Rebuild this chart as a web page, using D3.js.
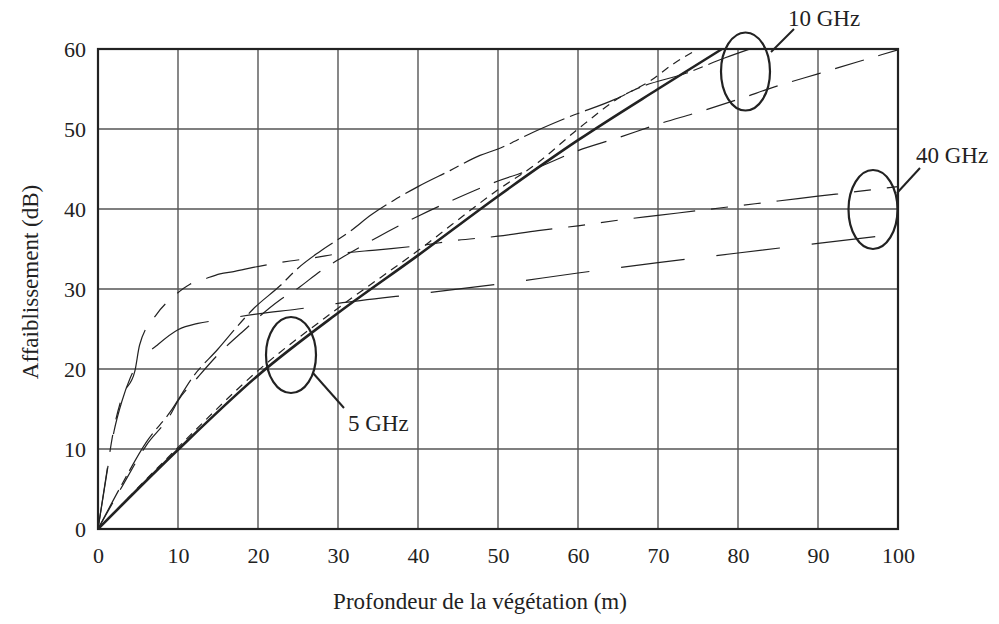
<!DOCTYPE html>
<html>
<head>
<meta charset="utf-8">
<script src="https://cdn.jsdelivr.net/npm/d3@7"></script>
<style>
  html, body { margin: 0; padding: 0; background: #fff; }
  svg { display: block; }
  text { font-family: "Liberation Serif", "DejaVu Serif", serif; fill: #222; }
</style>
</head>
<body>
<svg id="chart" width="999" height="624"></svg>
<script>
// ---- tick labels / domain ----
const xTicks = [0, 10, 20, 30, 40, 50, 60, 70, 80, 90, 100];
const yTicks = [0, 10, 20, 30, 40, 50, 60];
const xTitle = "Profondeur de la végétation (m)";
const yTitle = "Affaiblissement (dB)";

// ---- 5 GHz ----
const d5solid = [0, 10, 20, 30, 40, 50, 60, 70, 78];
const a5solid = [0, 9.9, 19.2, 27, 34.2, 41.6, 48.6, 55, 60];
const d5dash = [0, 10, 20, 30, 40, 50, 55, 60, 65, 69, 72, 75];
const a5dash = [0, 10.2, 19.8, 27.6, 34.8, 42.4, 45.8, 50, 53.8, 56, 58.2, 60];

// ---- 10 GHz ----
const d10a = [0, 3, 6, 9, 10, 12.5, 15, 18, 22.7, 25, 27.75, 31.3, 35, 40, 45, 50, 55, 60, 65, 70, 75, 80, 85, 90, 95, 100];
const a10a = [0, 5.3, 10.4, 14.2, 16, 19, 21.8, 24.6, 28.6, 30.1, 32.2, 34.4, 36.5, 39.1, 41.4, 43.5, 45.2, 47.3, 48.9, 50.6, 52.1, 53.7, 55.4, 56.9, 58.4, 59.9];
const d10c = [0, 3, 6, 9, 12, 15, 17.3, 19.4, 22.75, 25, 27.75, 31.5, 34.2, 37, 40, 44, 47.75, 50, 54.4, 58.6, 64.6, 67.75, 73.6, 78.4, 81.5];
const a10c = [0, 5.6, 10.8, 14.6, 19.2, 22.5, 25.2, 27.5, 30.4, 32.6, 34.7, 37.2, 39.3, 41.1, 42.8, 44.8, 46.7, 47.5, 49.6, 51.4, 53.7, 55.2, 57, 58.9, 60];

// ---- 40 GHz ----
const d40a = [0, 1, 2, 3, 4.6, 5.2, 7.3, 9.6, 11.5, 13.2, 15.25, 17.1, 19.4, 24, 27, 30, 35, 40, 45, 50, 55, 60, 65, 70, 75, 80, 85, 90, 95, 100];
const a40a = [0, 6.5, 12.6, 16.5, 19.7, 23, 26.8, 29.2, 30.6, 31.2, 31.9, 32.2, 32.7, 33.5, 33.9, 34.4, 34.9, 35.4, 36.1, 36.6, 37.3, 37.9, 38.6, 39.2, 39.8, 40.4, 41, 41.6, 42.2, 42.8];
const d40b = [0, 1, 2, 3, 4, 5, 7.3, 10, 12.5, 15, 20, 25, 30, 40, 50, 60, 70, 80, 90, 100];
const a40b = [0, 6.3, 12.2, 16, 18.8, 20.8, 22.9, 24.9, 25.7, 26.1, 26.9, 27.5, 28.2, 29.4, 30.6, 32, 33.3, 34.5, 35.7, 36.9];

// ---- series table ----
const series = [
  { xs: d40a, ys: a40a, dash: "62,16,17,16,17,16", width: 1.2 },
  { xs: d40b, ys: a40b, dash: "64,32", width: 1.2 },
  { xs: d10a, ys: a10a, dash: "30,15", width: 1.2 },
  { xs: d10c, ys: a10c, dash: "44,6,10,6", width: 1.2 },
  { xs: d5dash, ys: a5dash, dash: "8,6", width: 1.2 },
  { xs: d5solid, ys: a5solid, dash: null, width: 2.6 }
];

const svg = d3.select("#chart");
const x = d3.scaleLinear().domain([0, 100]).range([98, 898]);
const y = d3.scaleLinear().domain([0, 60]).range([529, 49]);

// grid
const grid = svg.append("g");
grid.selectAll("line.v").data(xTicks.slice(1, -1)).join("line")
  .attr("x1", d => x(d)).attr("x2", d => x(d))
  .attr("y1", y(0)).attr("y2", y(60))
  .attr("stroke", "#555").attr("stroke-width", 1.4);
grid.selectAll("line.h").data(yTicks.slice(1, -1)).join("line")
  .attr("x1", x(0)).attr("x2", x(100))
  .attr("y1", d => y(d)).attr("y2", d => y(d))
  .attr("stroke", "#555").attr("stroke-width", 1.4);

// axes (labels only, no tick marks)
const xAxis = d3.axisBottom(x).tickValues(xTicks).tickSize(0).tickPadding(18).tickFormat(d3.format("d"));
const gx = svg.append("g").attr("transform", `translate(0,${y(0)})`).call(xAxis);
gx.select(".domain").remove();
gx.selectAll("text").attr("font-size", 22).attr("font-family", "Liberation Serif").attr("fill", "#222");

const yAxis = d3.axisLeft(y).tickValues(yTicks).tickSize(0).tickPadding(12).tickFormat(d3.format("d"));
const gy = svg.append("g").attr("transform", `translate(${x(0)},0)`).call(yAxis);
gy.select(".domain").remove();
gy.selectAll("text").attr("font-size", 22).attr("font-family", "Liberation Serif").attr("fill", "#222");

// curves
const line = d3.line().x(d => x(d[0])).y(d => y(d[1])).curve(d3.curveMonotoneX);
svg.append("clipPath").attr("id", "clip").append("rect")
  .attr("x", x(0)).attr("y", y(60) - 2).attr("width", x(100) - x(0)).attr("height", y(0) - y(60) + 2);
svg.append("g").attr("clip-path", "url(#clip)")
  .selectAll("path").data(series).join("path")
  .attr("d", s => line(s.xs.map((v, i) => [v, s.ys[i]])))
  .attr("fill", "none")
  .attr("stroke", "#222")
  .attr("stroke-width", s => s.width)
  .attr("stroke-dasharray", s => s.dash);

// frame
svg.append("rect").attr("x", x(0)).attr("y", y(60))
  .attr("width", x(100) - x(0)).attr("height", y(0) - y(60))
  .attr("fill", "none").attr("stroke", "#222").attr("stroke-width", 2.2);

// annotations: ellipses, leaders, labels
const notes = [
  { cx: 291, cy: 355, rx: 25, ry: 38, lx1: 313, ly1: 373, lx2: 344, ly2: 408, tx: 348, ty: 431, label: "5 GHz" },
  { cx: 745.5, cy: 71.5, rx: 24.5, ry: 39, lx1: 771, ly1: 52, lx2: 794, ly2: 29, tx: 788, ty: 26, label: "10 GHz" },
  { cx: 873, cy: 209.5, rx: 24.5, ry: 39.5, lx1: 897, ly1: 193, lx2: 920, ly2: 168, tx: 916, ty: 163, label: "40 GHz" }
];
const ann = svg.append("g");
ann.selectAll("ellipse").data(notes).join("ellipse")
  .attr("cx", d => d.cx).attr("cy", d => d.cy).attr("rx", d => d.rx).attr("ry", d => d.ry)
  .attr("fill", "none").attr("stroke", "#222").attr("stroke-width", 2.2);
ann.selectAll("line").data(notes).join("line")
  .attr("x1", d => d.lx1).attr("y1", d => d.ly1).attr("x2", d => d.lx2).attr("y2", d => d.ly2)
  .attr("stroke", "#222").attr("stroke-width", 2);
ann.selectAll("text").data(notes).join("text")
  .attr("x", d => d.tx).attr("y", d => d.ty).attr("font-size", 23).text(d => d.label);

// titles
svg.append("text").attr("x", 480).attr("y", 609).attr("text-anchor", "middle")
  .attr("font-size", 23).text(xTitle);
svg.append("text").attr("transform", "translate(38,282) rotate(-90)").attr("text-anchor", "middle")
  .attr("font-size", 23).text(yTitle);
</script>
</body>
</html>
